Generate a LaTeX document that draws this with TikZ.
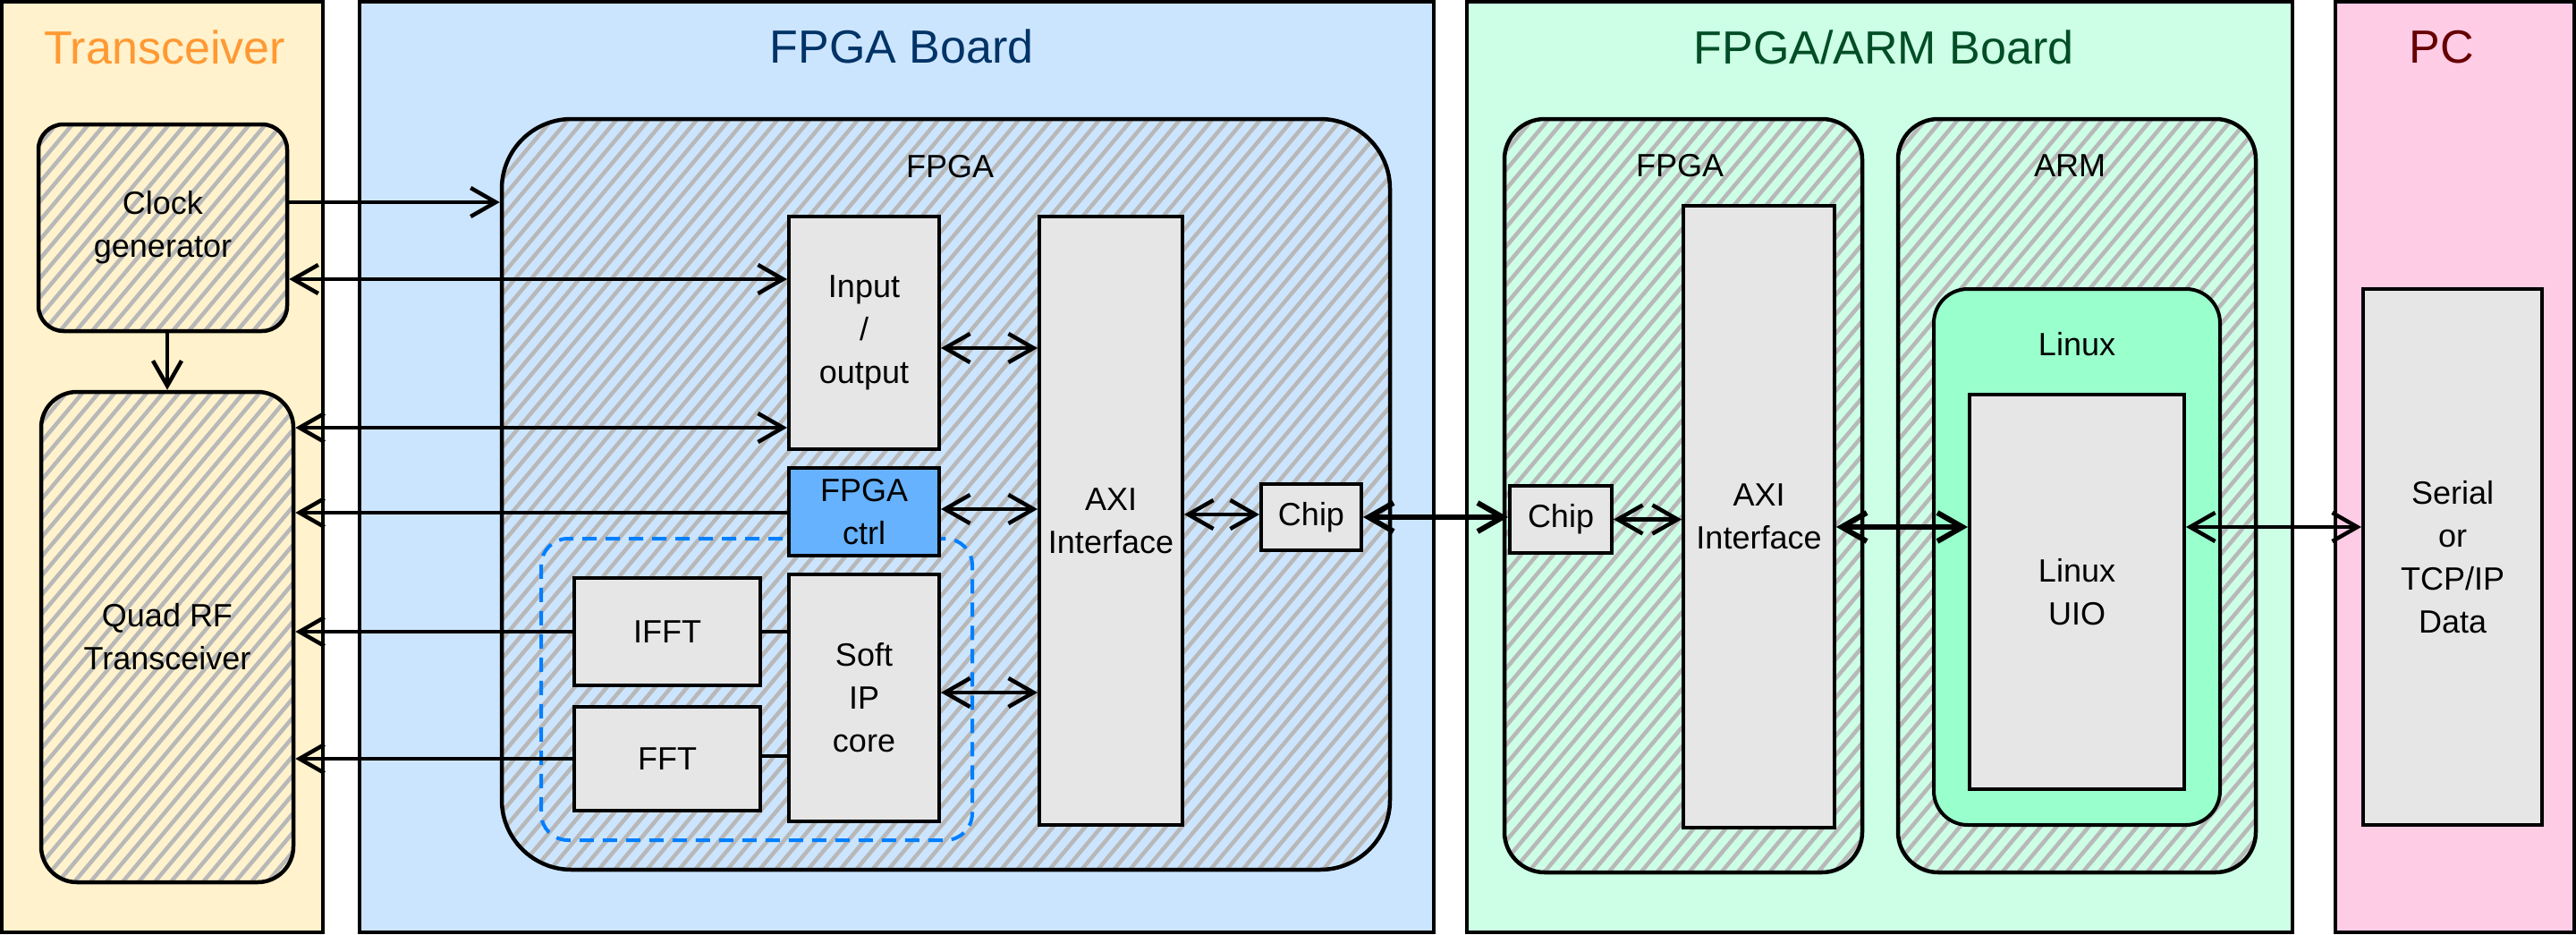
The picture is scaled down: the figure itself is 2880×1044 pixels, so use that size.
\documentclass[tikz,border=0pt]{standalone}
\usepackage{fontspec}
\setmainfont{Liberation Sans}
\usetikzlibrary{arrows.meta,calc}
\definecolor{transfill}{HTML}{FFF2CC}
\definecolor{fpgafill}{HTML}{CCE5FF}
\definecolor{armfill}{HTML}{CCFFE6}
\definecolor{pcfill}{HTML}{FFCCE6}
\definecolor{transtitle}{HTML}{FF9933}
\definecolor{fpgatitle}{HTML}{003366}
\definecolor{armtitle}{HTML}{004D26}
\definecolor{pctitle}{HTML}{660000}
\definecolor{boxgrey}{HTML}{E6E6E6}
\definecolor{hatchgrey}{HTML}{B8B8B8}
\definecolor{ctrlblue}{HTML}{66B2FF}
\definecolor{linuxgreen}{HTML}{99FFCC}
\definecolor{dashblue}{HTML}{007FFF}
\newcommand\boxfont{\fontsize{36}{48}\selectfont}
\begin{document}
\begin{tikzpicture}[x=1pt,y=-1pt,
  >={Straight Barb[length=28pt,width=32pt]},
  panel/.style={draw, line width=4pt, inner sep=0pt},
  paneltitle/.style={font=\fontsize{52}{60}\selectfont, inner sep=0pt},
  hatched/.style={draw, line width=4.5pt, rounded corners=#1, inner sep=0pt, align=center, font=\boxfont,
     path picture={\foreach \k in {-65,...,65}{\draw[hatchgrey, line width=4.5pt, line cap=round] ($(path picture bounding box.center)+(\k*18-378,450)$) -- ++(756,-900);}}},
  greybox/.style={draw, fill=boxgrey, line width=4pt, inner sep=0pt, align=center, font=\boxfont},
  lbl/.style={font=\boxfont, inner sep=0pt},
  link/.style={line width=4.5pt, line cap=round, line join=round},
  biglink/.style={line width=6pt, line cap=round, line join=round}
]
\useasboundingbox (0,0) rectangle (2880,1044);

% panels
\node[panel, fill=transfill, minimum width=359pt, minimum height=1040pt] (pTrans) at (181.5,522) {};
\node[panel, fill=fpgafill, minimum width=1201pt, minimum height=1040pt] (pFPGA) at (1002.5,522) {};
\node[panel, fill=armfill, minimum width=923pt, minimum height=1040pt] (pFA) at (2101.5,522) {};
\node[panel, fill=pcfill, minimum width=267pt, minimum height=1040pt] (pPC) at (2744.5,522) {};

\node[paneltitle, text=transtitle] (tTrans) at (184,53) {Transceiver};
\node[paneltitle, text=fpgatitle] (tFPGA) at (1008,52) {FPGA Board};
\node[paneltitle, text=armtitle] (tFA) at (2106,53) {FPGA/ARM Board};
\node[paneltitle, text=pctitle] (tPC) at (2730,53) {PC};

% hatched containers
\node[hatched=28pt, minimum width=278pt, minimum height=231pt] (clk) at (182,254.5) {Clock\\generator};
\node[hatched=40pt, minimum width=282pt, minimum height=548pt] (quad) at (187,712) {Quad RF\\Transceiver};
\node[hatched=78pt, minimum width=993pt, minimum height=839pt] (fpga) at (1057.5,552.5) {};
\node[hatched=45pt, minimum width=400pt, minimum height=842pt] (fpga2) at (1882,554) {};
\node[hatched=45pt, minimum width=400pt, minimum height=842pt] (arm) at (2322,554) {};

\node[lbl] (lFPGA) at (1062,186) {FPGA};
\node[lbl] (lFPGA2) at (1878,185) {FPGA};
\node[lbl] (lARM) at (2314,185) {ARM};

% dashed group
\node[draw=dashblue, dash pattern=on 16pt off 10pt, line width=4pt, rounded corners=30pt, minimum width=482pt, minimum height=337pt, inner sep=0pt] (grp) at (846,770.5) {};

% FPGA board blocks
\node[greybox, minimum width=168pt, minimum height=260pt] (io) at (966,372) {Input\\/\\output};
\node[greybox, fill=ctrlblue, minimum width=168pt, minimum height=98pt] (ctrl) at (966,572) {FPGA\\ctrl};
\node[greybox, minimum width=168pt, minimum height=276pt] (softip) at (966,780) {Soft\\IP\\core};
\node[greybox, minimum width=208pt, minimum height=120pt] (ifft) at (746,706) {IFFT};
\node[greybox, minimum width=208pt, minimum height=116pt] (fft) at (746,848) {FFT};
\node[greybox, minimum width=160pt, minimum height=680pt] (axi1) at (1242,582) {AXI\\Interface};
\node[greybox, minimum width=112pt, minimum height=74pt] (chip1) at (1466,578) {Chip};

% FPGA/ARM board blocks
\node[greybox, minimum width=114pt, minimum height=75pt] (chip2) at (1745,580.5) {Chip};
\node[greybox, minimum width=169pt, minimum height=695pt] (axi2) at (1966.5,577.5) {AXI\\Interface};
\node[draw, fill=linuxgreen, line width=4pt, rounded corners=38pt, minimum width=320pt, minimum height=599pt, inner sep=0pt] (linux) at (2322,622.5) {};
\node[lbl] (lLinux) at (2322,385) {Linux};
\node[greybox, minimum width=240pt, minimum height=441pt] (uio) at (2322,661.5) {Linux\\UIO};

% PC block
\node[greybox, minimum width=200pt, minimum height=599pt] (serial) at (2742,622.5) {Serial\\or\\TCP/IP\\Data};

% connectors: transceiver side
\draw[link,->] (clk.south -| quad.north) -- (quad.north);
\draw[link,->] (clk.east |- 0,226) -- (fpga.west |- 0,226);
\draw[link,<->] (clk.east |- 0,312) -- (io.west |- 0,312);
\draw[link,<->] (quad.east |- 0,478) -- (io.west |- 0,478);
\draw[link,->] (ctrl.west |- 0,573) -- (quad.east |- 0,573);
\draw[link,->] (ifft.west) -- (quad.east |- ifft.west);
\draw[link,->] (fft.west) -- (quad.east |- fft.west);
\draw[line width=3.5pt] (ifft.east) -- (softip.west |- ifft.east);
\draw[line width=3.5pt] (fft.east |- 0,845) -- (softip.west |- 0,845);

% connectors: FPGA board
\draw[link,<->] (io.east |- 0,389) -- (axi1.west |- 0,389);
\draw[link,<->] (ctrl.east |- 0,569) -- (axi1.west |- 0,569);
\draw[link,<->] (softip.east |- 0,774) -- (axi1.west |- 0,774);
\draw[link,<->] (axi1.east |- 0,575) -- (chip1.west |- 0,575);

% connectors: between boards
\draw[biglink,<->] (chip1.east) -- (chip2.west |- chip1.east);
\draw[link,<->] (chip2.east) -- (axi2.west |- chip2.east);
\draw[biglink,<->] (axi2.east |- 0,589) -- (uio.west |- 0,589);
\draw[link,<->] (uio.east |- 0,589) -- (serial.west |- 0,589);
\end{tikzpicture}
\end{document}
